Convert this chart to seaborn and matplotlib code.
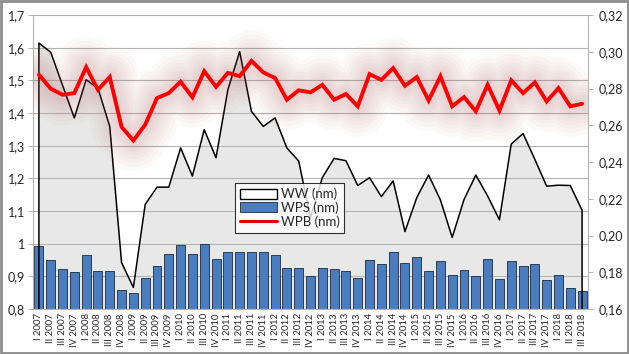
import numpy as np
import matplotlib
matplotlib.use("Agg")
import matplotlib.pyplot as plt
import pandas as pd
import seaborn as sns
from matplotlib.patches import Patch, Rectangle
from matplotlib.lines import Line2D

# quarter labels, I 2007 .. III 2018
quarters = ["I", "II", "III", "IV"]
years = list(range(2007, 2019))
labels = [f"{q} {y}" for y in years for q in quarters][:47]

# WW (nm), left axis
ww = [1.614, 1.586, 1.485, 1.385, 1.502, 1.476, 1.359, 0.942, 0.866, 1.120, 1.173, 1.173,
      1.293, 1.207, 1.349, 1.263, 1.471, 1.588, 1.405, 1.359, 1.385, 1.293, 1.253, 1.080,
      1.202, 1.261, 1.254, 1.178, 1.202, 1.144, 1.192, 1.037, 1.141, 1.210, 1.134, 1.019,
      1.135, 1.210, 1.146, 1.073, 1.305, 1.337, 1.258, 1.176, 1.179, 1.178, 1.102]
# WPS (nm), left axis
wps = [0.993, 0.950, 0.921, 0.912, 0.965, 0.915, 0.916, 0.858, 0.850, 0.895, 0.933, 0.967,
       0.997, 0.967, 1.000, 0.952, 0.975, 0.975, 0.976, 0.976, 0.965, 0.925, 0.925, 0.902,
       0.927, 0.922, 0.916, 0.894, 0.950, 0.939, 0.973, 0.940, 0.958, 0.915, 0.948, 0.904,
       0.919, 0.901, 0.954, 0.893, 0.946, 0.931, 0.937, 0.888, 0.905, 0.864, 0.855]
# WPB (nm), right axis
wpb = [0.2875, 0.2799, 0.2766, 0.2775, 0.2916, 0.2793, 0.2862, 0.2591, 0.2517, 0.2603, 0.2748, 0.2775,
       0.2837, 0.2752, 0.2894, 0.2809, 0.2885, 0.2867, 0.2950, 0.2888, 0.2857, 0.2739, 0.2790, 0.2779,
       0.2820, 0.2739, 0.2770, 0.2703, 0.2878, 0.2847, 0.2911, 0.2815, 0.2862, 0.2735, 0.2866, 0.2703,
       0.2753, 0.2676, 0.2820, 0.2680, 0.2844, 0.2775, 0.2833, 0.2730, 0.2802, 0.2703, 0.2717]

left_ticks = [0.8, 0.9, 1.0, 1.1, 1.2, 1.3, 1.4, 1.5, 1.6, 1.7]
left_labels = ["0,8", "0,9", "1", "1,1", "1,2", "1,3", "1,4", "1,5", "1,6", "1,7"]
right_ticks = [0.16, 0.18, 0.20, 0.22, 0.24, 0.26, 0.28, 0.30, 0.32]

df = pd.DataFrame({"quarter": labels, "WW": ww, "WPS": wps, "WPB": wpb})
df["pos"] = np.arange(len(df))

sns.set_style("white")
plt.rcParams["font.family"] = ["Lato", "DejaVu Sans"]

grid_col = "#b4b4b4"
fig = plt.figure(figsize=(6.29, 3.54), dpi=100)
ax = fig.add_axes([33 / 629, 1 - 309 / 354, 555 / 629, 294 / 354])

base = left_ticks[0]
x = df["pos"].values
ax.fill_between(x, base, df["WW"], color="#e8e8e8", lw=0, zorder=0.5)
for v in left_ticks[1:]:
    ax.axhline(v, color=grid_col, lw=0.8, zorder=1)

sns.barplot(data=df, x="quarter", y="WPS", order=labels, color="#4a7dc0", saturation=1,
            edgecolor="#1e2a3a", linewidth=0.6, width=0.76, ax=ax, zorder=2)

# outline of the WW area, closed down to the axis at both ends
ax.plot(np.r_[x[0], x, x[-1]], np.r_[base, df["WW"], base], color="black", lw=1.1, zorder=3)

ax.set_xlim(-0.5, len(df) - 0.5)
ax.set_ylim(0.8, 1.7)
ax.set_yticks(left_ticks)
ax.set_yticklabels(left_labels, fontsize=9)
ax.set_xticks(x)
ax.set_xticklabels(labels, rotation=90, fontsize=6.8)
ax.set_xticks(np.arange(-0.5, len(df), 1.0), minor=True)
ax.tick_params(axis="x", which="major", length=0, pad=3)
ax.tick_params(axis="x", which="minor", length=3.5, color="#b0a090", width=0.7)
ax.tick_params(axis="y", length=3.5, color=grid_col, width=0.7, pad=2)
ax.set_xlabel("")
ax.set_ylabel("")
for s in ["top", "right"]:
    ax.spines[s].set_visible(False)
for s in ["left", "bottom"]:
    ax.spines[s].set_color(grid_col)
    ax.spines[s].set_linewidth(0.8)

ax2 = ax.twinx()
# soft blurred glow under the WPB line
for lw in [44, 38, 32, 27, 22, 17, 13, 9]:
    sns.lineplot(data=df, x="pos", y="WPB", color="#b05050", lw=lw, alpha=0.03, ax=ax2,
                 solid_capstyle="round", solid_joinstyle="round")
sns.lineplot(data=df, x="pos", y="WPB", color="#ff0000", lw=2.8, ax=ax2,
             solid_joinstyle="miter")
ax2.set_ylim(0.16, 0.32)
ax2.set_yticks(right_ticks)
ax2.set_yticklabels([f"{v:.2f}".replace(".", ",") for v in right_ticks], fontsize=9)
ax2.tick_params(axis="y", length=3.5, color=grid_col, width=0.7, pad=4)
ax2.set_ylabel("")
ax2.set_xlabel("")
ax2.grid(False)
for s in ["top", "left", "bottom"]:
    ax2.spines[s].set_visible(False)
ax2.spines["right"].set_color(grid_col)
ax2.spines["right"].set_linewidth(0.8)
ax2.set_xlim(-0.5, len(df) - 0.5)

handles = [Patch(facecolor="white", edgecolor="black", lw=1.0, label="WW (nm)"),
           Patch(facecolor="#4a7dc0", edgecolor="#1e2a3a", lw=0.6, label="WPS (nm)"),
           Line2D([], [], color="#e00000", lw=2.2, label="WPB (nm)")]
leg = ax2.legend(handles=handles, loc="upper left", bbox_to_anchor=(235 / 629, 1 - 183 / 354),
                 bbox_transform=fig.transFigure, frameon=True, fancybox=False, fontsize=9.5,
                 handlelength=2.8, handleheight=0.8, handletextpad=0.3, labelspacing=0.1,
                 borderpad=0.35, borderaxespad=0)
leg.get_frame().set_edgecolor("black")
leg.get_frame().set_linewidth(0.8)
leg.set_zorder(10)

fig.patches.append(Rectangle((0.002, 0.003), 0.996, 0.994, transform=fig.transFigure,
                             fill=False, edgecolor="#8c8c8c", lw=2))

fig.savefig("out.png", dpi=100)
